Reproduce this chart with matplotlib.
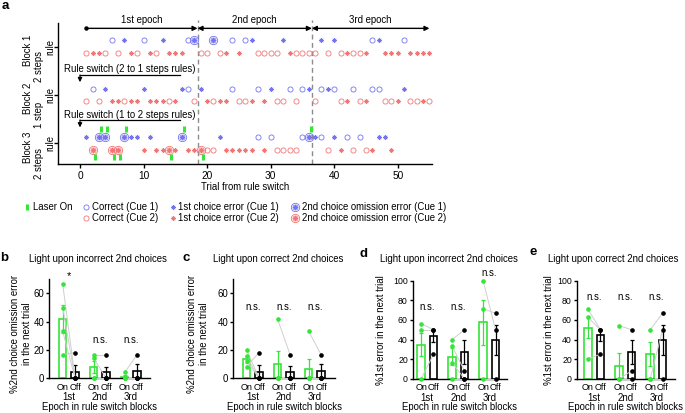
import matplotlib
matplotlib.use("Agg")
import matplotlib.pyplot as plt
import numpy as np

plt.rcParams['font.family'] = ['Liberation Sans', 'DejaVu Sans']
plt.rcParams['font.size'] = 6.9
plt.rcParams['axes.linewidth'] = 1.0

W, H, DPI = 685, 413, 100

# ---------------- panel a data (trial numbers from rule switch) ----------------
block_names = ["Block 1", "Block 2", "Block 3"]
block_rules = ["2 steps", "1 step", "2 steps"]
b1_cue1_correct = [5, 10, 17, 24, 26, 46, 51]
b1_cue1_error = [7, 13, 27, 32, 38, 40, 47]
b1_cue1_omission = [18, 21]
b1_cue2_correct = [1, 4, 6, 9, 12, 19, 20, 22, 28, 29, 30, 31, 34, 35, 36, 37, 39, 41, 43, 44]
b1_cue2_error = [2, 3, 8, 11, 14, 15, 16, 23, 25, 33, 42, 45, 48, 49, 50, 52, 53, 54, 55]
b1_cue2_omission = []
b2_cue1_correct = [2, 17, 24, 28, 33, 35, 38, 40, 43, 46, 47]
b2_cue1_error = [4, 10, 16, 19, 30, 36, 39, 51]
b2_cue1_omission = []
b2_cue2_correct = [1, 3, 7, 14, 18, 21, 25, 26, 31, 32, 34, 37, 41, 44, 48, 49, 52, 53, 55]
b2_cue2_error = [5, 6, 8, 9, 11, 12, 13, 15, 20, 22, 23, 27, 29, 42, 45, 50, 54]
b2_cue2_omission = []
b3_cue1_correct = [28, 30, 35, 38, 42, 44]
b3_cue1_error = [1, 8, 9, 11, 22, 37, 40, 47, 48]
b3_cue1_omission = [3, 4, 7, 16, 36]
b3_cue2_correct = [20, 21, 31, 32, 33, 34, 39, 43, 45]
b3_cue2_error = [10, 12, 13, 15, 17, 18, 23, 24, 25, 26, 27, 29, 41, 46, 49]
b3_cue2_omission = [2, 5, 6, 14, 19]
b3_laser_cue1 = [3, 4, 7, 16, 36]
b3_laser_cue2 = [2, 5, 6, 14, 19]
epoch_bounds = [18.5, 36.5]
epoch_labels = ["1st epoch", "2nd epoch", "3rd epoch"]
x_ticks_a = [0, 10, 20, 30, 40, 50]

# ---------------- panels b-e data ----------------
epochs = ["1st", "2nd", "3rd"]
b_on_mean = [41.7, 7.7, 1.0]
b_on_sem = [10.0, 4.3, 1.0]
b_off_mean = [4.6, 4.1, 5.4]
b_off_sem = [4.6, 4.1, 4.6]
b_on_pts = [[66.7, 50.0, 33.3, 16.7], [16.7, 14.3, 0, 0], [4.2, 0, 0, 0]]
b_off_pts = [[0, 0, 0, 18.2], [16.7, 0, 0, 0], [16.7, 0, 0, 0]]
b_sig = ["*", "n.s.", "n.s."]
b_sig_y = [72, 27, 27]

c_on_mean = [13.5, 10.4, 6.7]
c_on_sem = [2.5, 9.2, 6.6]
c_off_mean = [4.6, 4.2, 5.2]
c_off_sem = [4.6, 4.2, 4.6]
c_on_pts = [[20.0, 15.4, 12.5, 8.3], [41.7, 0, 0, 0], [33.3, 0, 0, 0]]
c_off_pts = [[0, 0, 0, 18.2], [16.7, 0, 0, 0], [16.7, 0, 0, 0]]
c_sig = ["n.s.", "n.s.", "n.s."]
c_sig_y = [50.6, 50.6, 50.6]

d_on_mean = [35.0, 22.6, 57.4]
d_on_sem = [11.5, 8.5, 22.5]
d_off_mean = [43.8, 27.0, 39.4]
d_off_sem = [6.3, 12.2, 15.2]
d_on_pts = [[56.3, 50.0, 0], [40.0, 33.3, 16.7, 0], [100, 71.4, 0]]
d_off_pts = [[50.0, 50.0, 25.0], [50.0, 8.3, 0, 0], [50.0, 66.7, 0]]
d_sig = ["n.s.", "n.s.", "n.s."]
d_sig_y = [73, 73, 108]

e_on_mean = [52.0, 13.5, 25.3]
e_on_sem = [10.7, 12.5, 12.5]
e_off_mean = [44.6, 27.0, 39.4]
e_off_sem = [6.3, 12.2, 15.2]
e_on_pts = [[70.8, 62.5, 20.8], [54.2, 0, 0], [50.0, 0, 0]]
e_off_pts = [[50.0, 50.0, 25.0], [50.0, 8.3, 0], [66.7, 50.0, 0]]
e_sig = ["n.s.", "n.s.", "n.s."]
e_sig_y = [83, 83, 83]

# ---------------- styles ----------------
BLUE = '#7474f2'
RED = '#f27676'
GREEN = '#36e43a'
GRAY_LINE = '#cfcfcf'
STAR = (8, 2, 0)
STAR_MS, STAR_MEW = 3.4, 0.5

fig = plt.figure(figsize=(W / DPI, H / DPI), dpi=DPI)


def rect(l, t, r, b):
    return [l / W, 1 - b / H, (r - l) / W, (b - t) / H]


def ftext(x, y, s, **kw):
    fig.text(x / W, 1 - y / H, s, **kw)


def draw_row(ax, y, correct, error, omission, color):
    kw = dict(ls='none', clip_on=False)
    ax.plot(correct, np.full(len(correct), y), marker='o', ms=3.7, mfc='none',
            mec=color, mew=0.6, **kw)
    ax.plot(error, np.full(len(error), y), marker=STAR, ms=STAR_MS, mec=color, mew=STAR_MEW, **kw)
    if len(omission):
        yy = np.full(len(omission), y)
        ax.plot(omission, yy, marker='o', ms=6.0, mfc='none', mec=color, mew=0.6, **kw)
        ax.plot(omission, yy, marker='o', ms=3.7, mfc='none', mec=color, mew=0.5, **kw)
        ax.plot(omission, yy, marker=STAR, ms=STAR_MS, mec=color, mew=STAR_MEW, **kw)


# ================= panel a =================
axa = fig.add_axes(rect(58, 20, 432, 164.3))
axa.set_xlim(-3.46, 55.4)
axa.set_ylim(3.435, 0.447)
for s in ['top', 'right']:
    axa.spines[s].set_visible(False)
axa.spines['left'].set_bounds(3.435, 0.5)
axa.set_xticks(x_ticks_a)
axa.set_yticks([1, 2, 3])
axa.set_yticklabels([])
axa.tick_params(axis='both', length=3, width=1, labelsize=7.3, pad=2)

off = 0.13
rows = [
    (1, b1_cue1_correct, b1_cue1_error, b1_cue1_omission, b1_cue2_correct, b1_cue2_error, b1_cue2_omission),
    (2, b2_cue1_correct, b2_cue1_error, b2_cue1_omission, b2_cue2_correct, b2_cue2_error, b2_cue2_omission),
    (3, b3_cue1_correct, b3_cue1_error, b3_cue1_omission, b3_cue2_correct, b3_cue2_error, b3_cue2_omission),
]
for yb, c1c, c1e, c1o, c2c, c2e, c2o in rows:
    draw_row(axa, yb - off, c1c, c1e, c1o, BLUE)
    draw_row(axa, yb + off, c2c, c2e, c2o, RED)

laser_dx = 0.3
axa.plot(np.array(b3_laser_cue1) + laser_dx, np.full(len(b3_laser_cue1), 3 - 0.29), ls='none',
         marker='|', ms=5, mew=2.2, color=GREEN)
axa.plot(np.array(b3_laser_cue2) + laser_dx, np.full(len(b3_laser_cue2), 3 + 0.28), ls='none',
         marker='|', ms=5, mew=2.2, color=GREEN)

for xb in epoch_bounds:
    axa.axvline(xb, color='#8c8c8c', ls=(0, (3.5, 2.5)), lw=1.0, zorder=0)

# epoch arrows
ya = 0.62
arrow_kw = dict(color='k', lw=1.0, shrinkA=0, shrinkB=0, mutation_scale=7)
ep_x = [(1, epoch_bounds[0]), (epoch_bounds[0], epoch_bounds[1]), (epoch_bounds[1], 55)]
styles = ['-|>', '<|-|>', '<|-|>']
for (x0, x1), st, lab in zip(ep_x, styles, epoch_labels):
    axa.annotate('', xy=(x1, ya), xytext=(x0, ya), arrowprops=dict(arrowstyle=st, **arrow_kw),
                 annotation_clip=False)
    axa.text((x0 + x1) / 2, 0.447, lab, ha='center', va='center', fontsize=6.9, clip_on=False)
axa.plot([1], [ya], 'o', ms=2.2, color='k', clip_on=False)

# rule switch annotations
for ytext, yline, ytip, s in [(1.462, 1.586, 1.735, "Rule switch (2 to 1 steps rules)"),
                              (2.414, 2.518, 2.672, "Rule switch (1 to 2 steps rules)")]:
    axa.text(7.83, ytext, s, ha='center', va='center', fontsize=6.9)
    axa.plot([0, 15.75], [yline, yline], color='k', lw=0.9)
    axa.annotate('', xy=(0, ytip), xytext=(0, yline),
                 arrowprops=dict(arrowstyle='-|>', color='k', lw=0.9, shrinkA=0, shrinkB=0,
                                 mutation_scale=6))

axa.annotate("Trial from rule switch", xy=(0.5, 0), xycoords='axes fraction',
             xytext=(0, -23 * 0.72), textcoords='offset points', ha='center', va='center',
             fontsize=6.9)

# block labels (rotated)
blk_y = [46.7, 94.6, 143.3]
for yc, nm, rl in zip(blk_y, block_names, block_rules):
    ftext(28, yc + 4, nm, rotation=90, ha='center', va='center', fontsize=6.9)
    ftext(39, yc + 20, rl, rotation=90, ha='center', va='center', fontsize=6.9)
    ftext(50, yc, "rule", rotation=90, ha='center', va='center', fontsize=6.9)

# legend (figure pixel coordinates)
axl = fig.add_axes([0, 0, 1, 1])
axl.set_xlim(0, W)
axl.set_ylim(H, 0)
axl.axis('off')
r1, r2 = 206.5, 218
axl.plot([26.7], [r1], ls='none', marker='|', ms=5, mew=2.2, color=GREEN)
axl.text(32.7, r1, "Laser On", va='center', ha='left', fontsize=6.9)
for yy, col, cue in [(r1, BLUE, "Cue 1"), (r2, RED, "Cue 2")]:
    axl.plot([86], [yy], ls='none', marker='o', ms=3.7, mfc='none', mec=col, mew=0.6)
    axl.text(91.7, yy, f"Correct ({cue})", va='center', ha='left', fontsize=6.9)
    axl.plot([172.7], [yy], ls='none', marker=STAR, ms=STAR_MS, mec=col, mew=STAR_MEW)
    axl.text(178.3, yy, f"1st choice error ({cue})", va='center', ha='left', fontsize=6.9)
    axl.plot([295], [yy], ls='none', marker='o', ms=6.0, mfc='none', mec=col, mew=0.6)
    axl.plot([295], [yy], ls='none', marker='o', ms=3.7, mfc='none', mec=col, mew=0.5)
    axl.plot([295], [yy], ls='none', marker=STAR, ms=STAR_MS, mec=col, mew=STAR_MEW)
    axl.text(301.7, yy, f"2nd choice omission error ({cue})", va='center', ha='left', fontsize=6.9)


# ================= panels b-e =================
def bar_panel(box, xlim, ylim, yticks, on_mean, on_sem, off_mean, off_sem, on_pts, off_pts,
              sig, sig_y, ytick_size):
    ax = fig.add_axes(rect(*box))
    g = np.arange(1, 4)
    on_x, off_x = g - 0.2, g + 0.2
    bw = 0.24
    ax.bar(on_x, on_mean, width=bw, facecolor='white', edgecolor=GREEN, lw=1.2, zorder=2)
    ax.bar(off_x, off_mean, width=bw, facecolor='white', edgecolor='k', lw=1.2, zorder=2)
    ax.errorbar(on_x, on_mean, yerr=on_sem, fmt='none', ecolor=GREEN, elinewidth=0.9,
                capsize=1.6, capthick=0.9, zorder=3)
    ax.errorbar(off_x, off_mean, yerr=off_sem, fmt='none', ecolor='k', elinewidth=0.9,
                capsize=1.6, capthick=0.9, zorder=3)
    for i in range(3):
        n = min(len(on_pts[i]), len(off_pts[i]))
        for j in range(n):
            ax.plot([on_x[i], off_x[i]], [on_pts[i][j], off_pts[i][j]], color=GRAY_LINE,
                    lw=0.7, zorder=4, clip_on=False)
        ax.plot(np.full(len(on_pts[i]), on_x[i]), on_pts[i], ls='none', marker='o', ms=2.3,
                color=GREEN, zorder=5, clip_on=False)
        ax.plot(np.full(len(off_pts[i]), off_x[i]), off_pts[i], ls='none', marker='o', ms=2.3,
                color='k', zorder=5, clip_on=False)
        ax.text(g[i], sig_y[i], sig[i], ha='center', va='center',
                fontsize=8 if sig[i] == '*' else 6.9, clip_on=False)
        ax.annotate(epochs[i], xy=(g[i], 0), xycoords=('data', 'axes fraction'),
                    xytext=(0, -19 * 0.72), textcoords='offset points', ha='center',
                    va='center', fontsize=6.9)
    ax.set_xlim(*xlim)
    ax.set_ylim(*ylim)
    ax.set_yticks(yticks)
    ax.set_xticks(np.concatenate([on_x, off_x]))
    ax.set_xticklabels(["On"] * 3 + ["Off"] * 3)
    ax.tick_params(axis='x', length=0, pad=3.2, labelsize=6.5)
    ax.tick_params(axis='y', length=2.5, width=1, pad=1.2, labelsize=ytick_size)
    for s in ['top', 'right']:
        ax.spines[s].set_visible(False)
    ax.annotate("Epoch in rule switch blocks", xy=(0.5, 0), xycoords='axes fraction',
                xytext=(0, -28.4 * 0.72), textcoords='offset points', ha='center',
                va='center', fontsize=6.9)
    return ax


bar_panel((49.3, 279.2, 150, 378.3), (0.368, 3.616), (0, 70), [0, 20, 40, 60],
          b_on_mean, b_on_sem, b_off_mean, b_off_sem, b_on_pts, b_off_pts, b_sig, b_sig_y, 6.9)
bar_panel((233.3, 279.2, 335, 378.3), (0.368, 3.65), (0, 70), [0, 20, 40, 60],
          c_on_mean, c_on_sem, c_off_mean, c_off_sem, c_on_pts, c_off_pts, c_sig, c_sig_y, 6.9)
bar_panel((413, 280.5, 507, 379), (0.54, 3.57), (0, 100), [0, 20, 40, 60, 80, 100],
          d_on_mean, d_on_sem, d_off_mean, d_off_sem, d_on_pts, d_off_pts, d_sig, d_sig_y, 6.3)
bar_panel((577, 280.5, 675, 379), (0.445, 3.6), (0, 100), [0, 20, 40, 60, 80, 100],
          e_on_mean, e_on_sem, e_off_mean, e_off_sem, e_on_pts, e_off_pts, e_sig, e_sig_y, 6.3)

# y labels
ylab_b = "%2nd choice omission error\nin the next trial"
ftext(21, 334, ylab_b, rotation=90, ha='center', va='center', fontsize=6.9, linespacing=1.15)
ftext(198, 334, ylab_b, rotation=90, ha='center', va='center', fontsize=6.9, linespacing=1.15)
ftext(381, 330, "%1st error in the next trial", rotation=90, ha='center', va='center', fontsize=6.9)
ftext(549, 330, "%1st error in the next trial", rotation=90, ha='center', va='center', fontsize=6.9)

# titles and panel letters
ftext(98, 258.5, "Light upon incorrect 2nd choices", ha='center', va='center', fontsize=6.9)
ftext(278, 258.5, "Light upon correct 2nd choices", ha='center', va='center', fontsize=6.9)
ftext(449, 258.5, "Light upon incorrect 2nd choices", ha='center', va='center', fontsize=6.9)
ftext(613, 258.5, "Light upon correct 2nd choices", ha='center', va='center', fontsize=6.9)
for lab, x, y in [("a", 5, 6), ("b", 4, 258), ("c", 186.5, 258), ("d", 364, 254), ("e", 533, 252)]:
    ftext(x, y, lab, ha='center', va='center', fontsize=9.5, fontweight='bold')

fig.savefig("out.png", dpi=DPI)
